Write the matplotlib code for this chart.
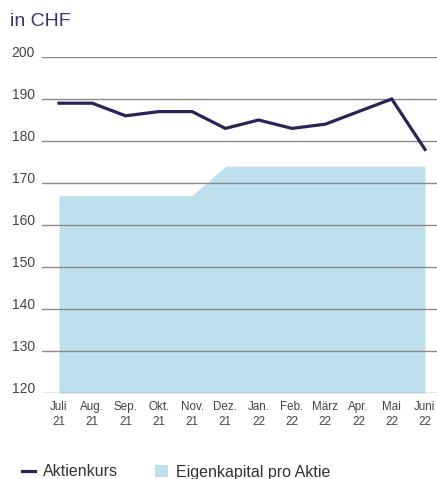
import matplotlib
matplotlib.use("Agg")
import matplotlib.pyplot as plt
from matplotlib.lines import Line2D
from matplotlib.patches import Patch
from matplotlib.transforms import ScaledTranslation

months = ["Juli\n21", "Aug.\n21", "Sep.\n21", "Okt.\n21", "Nov.\n21", "Dez.\n21",
          "Jan.\n22", "Feb.\n22", "März\n22", "Apr.\n22", "Mai\n22", "Juni\n22"]
aktienkurs = [189, 189, 186, 187, 187, 183, 185, 183, 184, 187, 190, 178]
eigenkapital = [167, 167, 167, 167, 167, 174, 174, 174, 174, 174, 174, 174]
yticks = [120, 130, 140, 150, 160, 170, 180, 190, 200]

plt.rcParams['font.family'] = ['Liberation Sans', 'DejaVu Sans']

fig = plt.figure(figsize=(4.37, 4.79), dpi=100)
ax = fig.add_axes([42/437, 1-393/479, 1-42/437, (393-57)/479])

x = list(range(len(months)))
ax.fill_between(x, 120, eigenkapital, color="#bde0ec", linewidth=0, zorder=1)
ax.plot(x, aktienkurs, color="#2a2456", linewidth=2.3, zorder=3, solid_joinstyle='miter')

ax.set_ylim(120, 200)
ax.set_xlim(-17/33.27, 11 + 12/33.27)
ax.set_yticks(yticks)
ax.set_xticks(x)
ax.set_xticklabels(months, fontsize=8.4, color="#444444", linespacing=1.3)
ax.tick_params(axis='both', length=0)
ax.tick_params(axis='y', labelsize=10, labelcolor="#444444", pad=5)
ax.tick_params(axis='x', pad=6)
for lab in ax.get_yticklabels():
    lab.set_transform(lab.get_transform() + ScaledTranslation(0, 4/72, fig.dpi_scale_trans))
ax.grid(axis='y', color="#8a8a8a", linewidth=1.0, zorder=2)
ax.set_axisbelow(False)
for s in ax.spines.values():
    s.set_visible(False)

fig.text(10/437, 1-22/479, "in CHF", fontsize=14, color="#3b3572", va='center', ha='left')

handles = [Line2D([0], [0], color="#2a2456", linewidth=2.3),
           Patch(facecolor="#bde0ec", edgecolor='none')]
fig.legend(handles, ["Aktienkurs", "Eigenkapital pro Aktie"], ncol=2, frameon=False,
           loc='center left', bbox_to_anchor=(8/437, 1-472/479), fontsize=11.5,
           handlelength=0.8, handleheight=0.85, columnspacing=2.3, handletextpad=0.5,
           labelcolor="#333333")

fig.savefig("out.png", dpi=100)
